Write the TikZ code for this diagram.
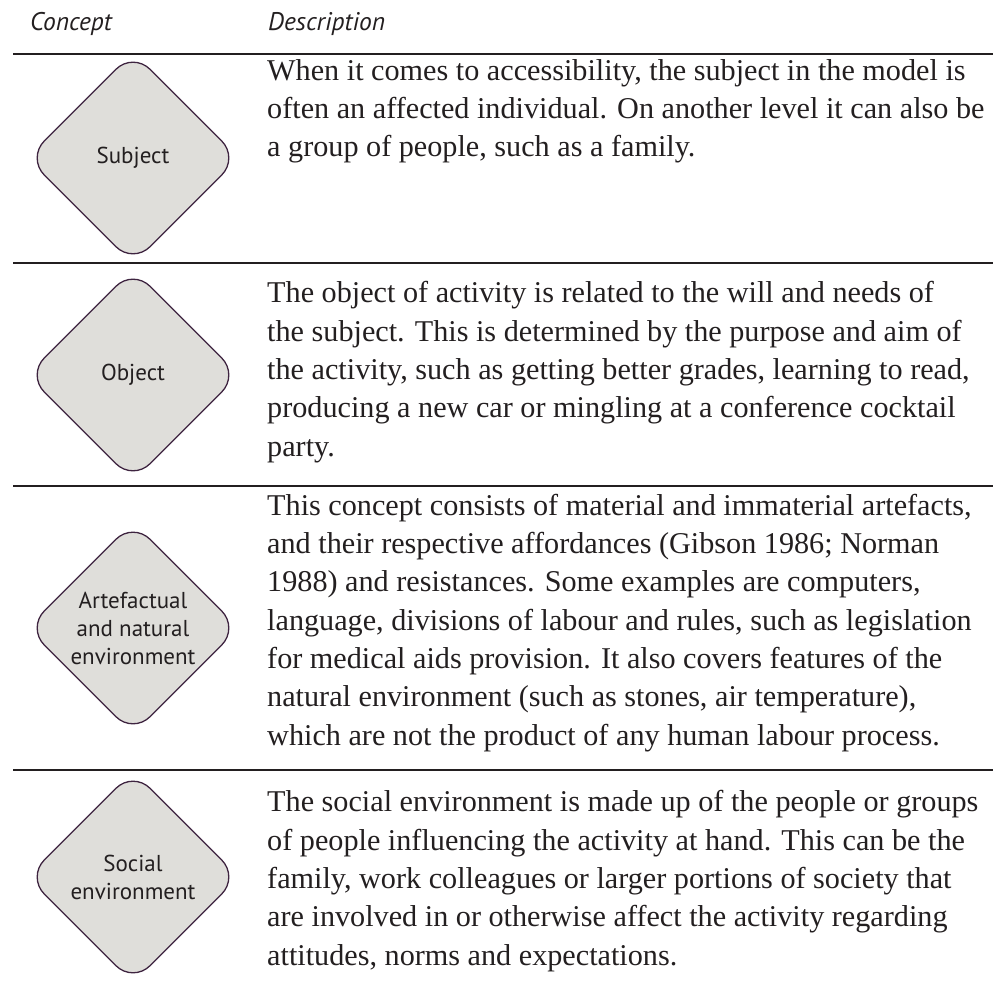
\documentclass[tikz,border=0pt]{standalone}
\usepackage{fontspec}
\setmainfont{Liberation Serif}
\setsansfont{PT Sans}
\usetikzlibrary{shapes.geometric}
\definecolor{conceptfill}{RGB}{223,222,218}
\definecolor{conceptline}{RGB}{62,36,64}
\definecolor{inkblack}{RGB}{35,31,32}

\begin{document}
\begin{tikzpicture}[x=1pt, y=-1pt,
    concept/.style={diamond, draw=conceptline, line width=1.3pt, fill=conceptfill,
        rounded corners=24pt, minimum width=212pt, minimum height=212pt, inner sep=0pt,
        align=center, text=inkblack, font=\sffamily\fontsize{23}{28}\selectfont},
    desc/.style={anchor=base west, align=left, inner sep=0pt, text=inkblack,
        font=\fontsize{30.2}{38.3}\selectfont},
    head/.style={anchor=base west, inner sep=0pt, text=inkblack,
        font=\sffamily\itshape\fontsize{25.5}{30}\selectfont},
    tablerule/.style={line width=2.8pt, draw=inkblack}]
    \useasboundingbox (0,0) rectangle (993,984);

    % header
    \node[head] (hconcept) at (30,31) {Concept};
    \node[head] (hdesc) at (268,31) {Description};
    \foreach \y in {54,263,486,770}
        \draw[tablerule] (13,\y) -- (993,\y);

    % concepts
    \node[concept] (subject) at (133,158) {Subject};
    \node[concept] (object) at (133,375) {Object};
    \node[concept] (artefact) at (133,628) {Artefactual\\and natural\\environment};
    \node[concept] (social) at (133,877) {Social\\environment};

    % descriptions (placed at the baseline of their last line)
    \node[desc] (dsubject) at (267,157) {When it comes to accessibility, the subject in the model is\\
        often an affected individual. On another level it can also be\\
        a group of people, such as a family.};
    \node[desc] (dobject) at (267,456) {The object of activity is related to the will and needs of\\
        the subject. This is determined by the purpose and aim of\\
        the activity, such as getting better grades, learning to read,\\
        producing a new car or mingling at a conference cocktail\\
        party.};
    \node[desc] (dartefact) at (267,745) {This concept consists of material and immaterial artefacts,\\
        and their respective affordances (Gibson 1986; Norman\\
        1988) and resistances. Some examples are computers,\\
        language, divisions of labour and rules, such as legislation\\
        for medical aids provision. It also covers features of the\\
        natural environment (such as stones, air temperature),\\
        which are not the product of any human labour process.};
    \node[desc] (dsocial) at (267,965) {The social environment is made up of the people or groups\\
        of people influencing the activity at hand. This can be the\\
        family, work colleagues or larger portions of society that\\
        are involved in or otherwise affect the activity regarding\\
        attitudes, norms and expectations.};
\end{tikzpicture}
\end{document}
